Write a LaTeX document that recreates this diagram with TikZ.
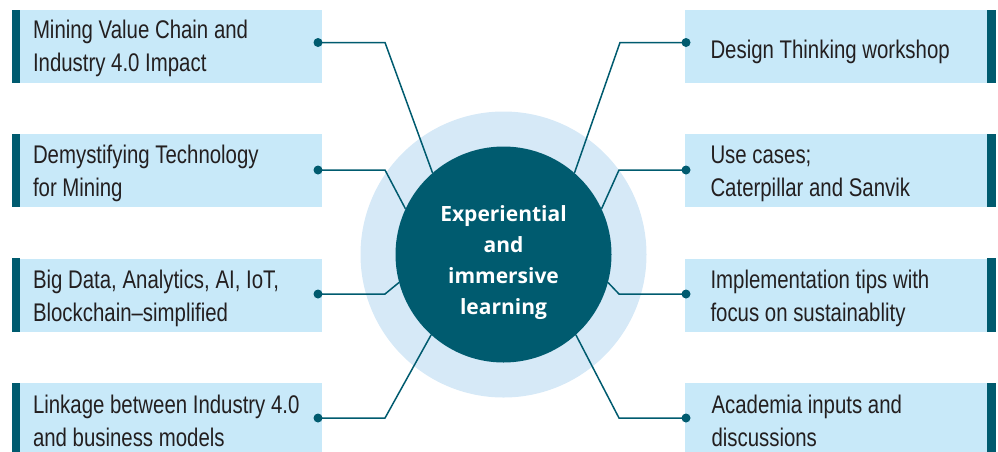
\documentclass[tikz,border=0pt]{standalone}
\usepackage{fontspec}
\setmainfont[FakeStretch=0.8]{Liberation Sans}
\newfontfamily\hubfont{Open Sans}
\usepackage{tikz}
\usetikzlibrary{positioning}
\definecolor{tealdark}{HTML}{005B6F}
\definecolor{boxblue}{HTML}{C8E9F9}
\definecolor{ringblue}{HTML}{D6E9F7}
\definecolor{txtgray}{HTML}{231F20}
\tikzset{
  box/.style={fill=boxblue, minimum width=302pt, minimum height=73pt, inner sep=0pt},
  bar/.style={fill=tealdark},
  txt/.style={anchor=west, align=left, text=txtgray, inner sep=0pt,
    font=\fontsize{25.5}{33}\selectfont},
  dot/.style={circle, fill=tealdark, minimum size=9pt, inner sep=0pt},
  link/.style={draw=tealdark, line width=1.5pt},
}

\begin{document}
\begin{tikzpicture}[x=1pt,y=-1pt]
\useasboundingbox (0,0) rectangle (998,451);
%
\node[circle, fill=ringblue, minimum size=286pt, inner sep=0pt](ring) at (503.5,254.5) {};
\node[circle, fill=tealdark, minimum size=216pt, inner sep=0pt](hub) at (503.5,254.5) {};
\node[align=center, text=white, font=\hubfont\bfseries\fontsize{21}{31}\selectfont]
  (hubtext) at ([yshift=-8pt]hub.center) {Experiential\\and\\immersive\\learning};
%
\node[box](l1) at (171,46.5) {};
\fill[bar] ([xshift=-8pt]l1.north west) rectangle (l1.south west);
\node[txt](t1) at ([xshift=13pt,yshift=-2pt]l1.west) {Mining Value Chain and\\Industry 4.0 Impact};
%
\node[box](l2) at (171,170.5) {};
\fill[bar] ([xshift=-8pt]l2.north west) rectangle (l2.south west);
\node[txt](t2) at ([xshift=13pt,yshift=-3pt]l2.west) {Demystifying Technology\\for Mining};
%
\node[box](l3) at (171,295) {};
\fill[bar] ([xshift=-8pt]l3.north west) rectangle (l3.south west);
\node[txt](t3) at ([xshift=13pt,yshift=-3pt]l3.west) {Big Data, Analytics, AI, IoT,\\Blockchain--simplified};
%
\node[box](l4) at (171,419.5) {};
\fill[bar] ([xshift=-8pt]l4.north west) rectangle (l4.south west);
\node[txt](t4) at ([xshift=13pt,yshift=-1pt]l4.west) {Linkage between Industry 4.0\\and business models};
%
\node[box](r1) at (835.5,46.5) {};
\fill[bar] (r1.north east) rectangle ([xshift=9pt]r1.south east);
\node[txt](u1) at ([xshift=26pt,yshift=-5pt]r1.west) {Design Thinking workshop};
%
\node[box](r2) at (835.5,170.5) {};
\fill[bar] (r2.north east) rectangle ([xshift=9pt]r2.south east);
\node[txt](u2) at ([xshift=26pt,yshift=-3pt]r2.west) {Use cases;\\Caterpillar and Sanvik};
%
\node[box](r3) at (835.5,295) {};
\fill[bar] (r3.north east) rectangle ([xshift=9pt]r3.south east);
\node[txt](u3) at ([xshift=26pt,yshift=-3pt]r3.west) {Implementation tips with\\focus on sustainablity};
%
\node[box](r4) at (835.5,419.5) {};
\fill[bar] (r4.north east) rectangle ([xshift=9pt]r4.south east);
\node[txt](u4) at ([xshift=27pt,yshift=-1pt]r4.west) {Academia inputs and\\discussions};
%
\node[dot](dl1) at (318,42.5) {};
\coordinate(kl1) at (385,42.5);
\draw[link](dl1.center) -- (kl1) -- (hub.131);
%
\node[dot](dl2) at (318,170) {};
\coordinate(kl2) at (385,170);
\draw[link](dl2.center) -- (kl2) -- (hub.155);
%
\node[dot](dl3) at (318,294) {};
\coordinate(kl3) at (385,294);
\draw[link](dl3.center) -- (kl3) -- (hub.195);
%
\node[dot](dl4) at (318,418) {};
\coordinate(kl4) at (385,418);
\draw[link](dl4.center) -- (kl4) -- (hub.228);
%
\node[dot](dr1) at (686,42.5) {};
\coordinate(kr1) at (620,42.5);
\draw[link](dr1.center) -- (kr1) -- (hub.49);
%
\node[dot](dr2) at (686,170) {};
\coordinate(kr2) at (619,170);
\draw[link](dr2.center) -- (kr2) -- (hub.25);
%
\node[dot](dr3) at (686,294) {};
\coordinate(kr3) at (619,294);
\draw[link](dr3.center) -- (kr3) -- (hub.-15);
%
\node[dot](dr4) at (686,418) {};
\coordinate(kr4) at (619,418);
\draw[link](dr4.center) -- (kr4) -- (hub.-48);
\end{tikzpicture}
\end{document}
